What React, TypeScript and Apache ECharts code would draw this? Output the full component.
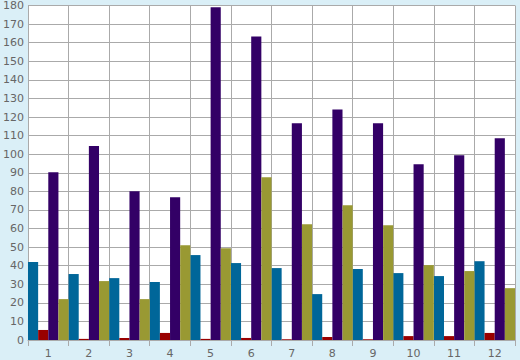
import React, { useEffect, useRef } from "react";
import * as echarts from "echarts";

const categories = ["1", "2", "3", "4", "5", "6", "7", "8", "9", "10", "11", "12"];
const blueValues = [42, 35.5, 33.3, 31.2, 45.7, 41.4, 38.7, 24.7, 38.2, 36, 34.4, 42.4];
const redValues = [5.4, 0.6, 1.1, 3.8, 0.6, 1.1, 0.4, 1.6, 0.4, 2.1, 2.1, 3.8];
const purpleValues = [90.3, 104.4, 80, 76.8, 179, 163.3, 116.6, 124, 116.6, 94.6, 99.4, 108.5];
const oliveValues = [22, 31.7, 22, 51, 49.4, 87.6, 62.3, 72.5, 61.8, 40.3, 37.1, 27.9];

export default function App() {
  const ref = useRef<HTMLDivElement>(null);
  useEffect(() => {
    if (!ref.current) return;
    const chart = echarts.init(ref.current, null, { renderer: "svg" });
    const gridColor = "#aaaaaa";
    const labelStyle = { color: "#666666", fontFamily: "DejaVu Sans", fontSize: 11 };
    const mk = (name: string, data: number[], color: string) => ({
      name,
      type: "bar",
      data,
      barGap: "0%",
      barCategoryGap: "0%",
      itemStyle: { color },
    });
    chart.setOption({
      animation: false,
      backgroundColor: "#daeff7",
      grid: {
        left: 26,
        right: 5,
        top: 5,
        bottom: 20,
        show: true,
        backgroundColor: "#ffffff",
        borderWidth: 0,
      },
      xAxis: {
        type: "category",
        data: categories,
        axisLine: { show: true, lineStyle: { color: gridColor } },
        axisTick: { show: true, length: 6, lineStyle: { color: gridColor } },
        splitLine: { show: true, lineStyle: { color: gridColor, width: 1 } },
        axisLabel: { ...labelStyle, margin: 8 },
      },
      yAxis: {
        type: "value",
        min: 0,
        max: 180,
        interval: 10,
        axisLine: { show: true, lineStyle: { color: gridColor } },
        axisTick: { show: false },
        splitLine: { show: true, lineStyle: { color: gridColor, width: 1 } },
        axisLabel: { ...labelStyle, margin: 4 },
      },
      series: [
        mk("blue", blueValues, "#006699"),
        mk("red", redValues, "#990000"),
        mk("purple", purpleValues, "#330066"),
        mk("olive", oliveValues, "#999933"),
      ],
    });
    return () => chart.dispose();
  }, []);
  return <div ref={ref} style={{ width: 520, height: 360, position: "absolute", left: 0, top: 0 }} />;
}
